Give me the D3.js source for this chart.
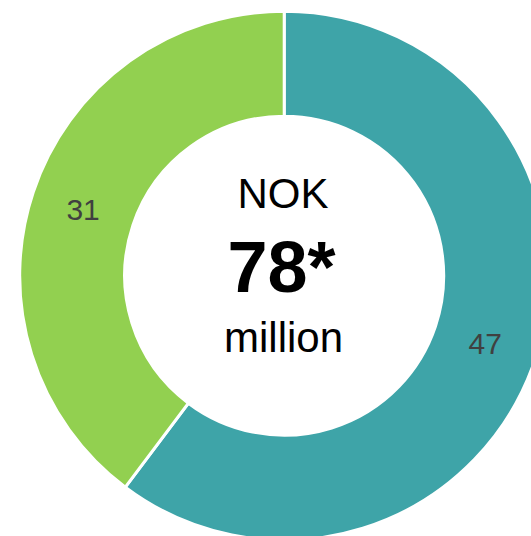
<!DOCTYPE html>
<html>
<head>
<meta charset="utf-8">
<script src="https://cdn.jsdelivr.net/npm/d3@7"></script>
<style>
  html, body { margin: 0; padding: 0; background: #fff; }
  svg { display: block; }
  text { font-family: "Liberation Sans", Arial, Helvetica, sans-serif; }
</style>
</head>
<body>
<div id="chart"></div>
<script>
// ---- data ----
const categories = ["Teal segment", "Green segment"];
const values = [47, 31];
const colors = ["#3ea4a8", "#92d050"];
const centerLines = ["NOK", "78*", "million"];

// ---- layout ----
const W = 531, H = 536;
const cx = 284.2, cy = 275.7;
const strokeW = 3;
const outerR = 263 + strokeW / 2;
const innerR = 161 - strokeW / 2;

const svg = d3.select("#chart").append("svg")
  .attr("width", W).attr("height", H);

const g = svg.append("g").attr("transform", `translate(${cx},${cy})`);

const pie = d3.pie().sort(null).value(d => d.value);
const arcs = pie(categories.map((c, i) => ({ name: c, value: values[i], color: colors[i] })));

const arc = d3.arc().innerRadius(innerR).outerRadius(outerR);
const labelArc = d3.arc().innerRadius(212).outerRadius(212);

g.selectAll("path.slice").data(arcs).join("path")
  .attr("class", "slice")
  .attr("d", arc)
  .attr("fill", d => d.data.color)
  .attr("stroke", "#fff")
  .attr("stroke-width", strokeW)
  .attr("stroke-linejoin", "miter");

g.selectAll("text.val").data(arcs).join("text")
  .attr("class", "val")
  .attr("transform", d => `translate(${labelArc.centroid(d)})`)
  .attr("text-anchor", "middle")
  .attr("dy", "0.37em")
  .attr("font-size", 30)
  .attr("fill", "#404040")
  .text(d => d.data.value);

// center text
const center = svg.append("g");
center.append("text")
  .attr("x", 283).attr("y", 208)
  .attr("text-anchor", "middle")
  .attr("font-size", 42)
  .attr("fill", "#000")
  .text(centerLines[0]);

center.append("text")
  .attr("x", 281.5).attr("y", 291.5)
  .attr("text-anchor", "middle")
  .attr("font-size", 72)
  .attr("font-weight", "bold")
  .attr("fill", "#000")
  .text(centerLines[1]);

center.append("text")
  .attr("x", 283.5).attr("y", 351.5)
  .attr("text-anchor", "middle")
  .attr("font-size", 42)
  .attr("fill", "#000")
  .text(centerLines[2]);
</script>
</body>
</html>
